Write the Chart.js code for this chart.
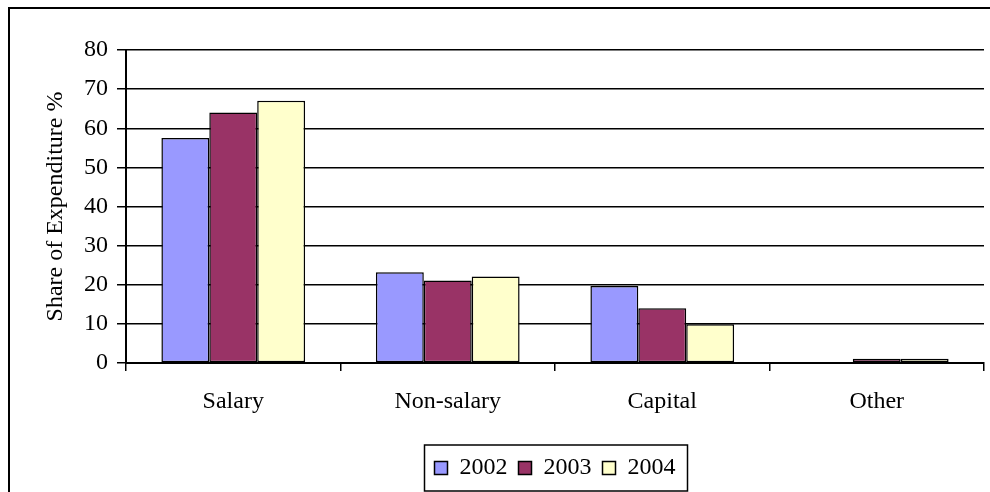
<!DOCTYPE html>
<html>
<head>
<meta charset="UTF-8">
<script src="https://cdn.jsdelivr.net/npm/chart.js@4"></script>
<style>
    body { margin: 0; background: #fff; }
    #wrap { width: 990px; height: 492px; }
</style>
</head>
<body>
<div id="wrap"><canvas id="chart" width="990" height="492"></canvas></div>
<script>
// data
const categories = ['Salary', 'Non-salary', 'Capital', 'Other'];
const years = ['2002', '2003', '2004'];
const share2002 = [57.5, 23.2, 19.7, 0];
const share2003 = [64, 21.1, 14, 1.1];
const share2004 = [67, 22.1, 9.9, 1.1];
const yTicks = [0, 10, 20, 30, 40, 50, 60, 70, 80];

const colors = ['#9999FF', '#993366', '#FFFFCC'];
const FONT = "'Liberation Serif', 'Times New Roman', serif";

// frame + legend box, drawn after everything else
const boxes = {
    id: 'boxes',
    afterDraw(chart) {
        const ctx = chart.ctx;
        ctx.save();
        ctx.strokeStyle = '#000';
        ctx.lineWidth = 2;
        ctx.strokeRect(9, 8, 1000, 500);
        const hb = chart.legend.legendHitBoxes;
        if (hb && hb.length) {
            const l = Math.min(...hb.map(b => b.left)) - 10;
            const r = Math.max(...hb.map(b => b.left + b.width)) + 12;
            const t = Math.min(...hb.map(b => b.top)) - 11;
            const btm = Math.max(...hb.map(b => b.top + b.height)) + 11;
            ctx.lineWidth = 1.5;
            ctx.strokeRect(l, t, r - l, btm - t);
        }
        ctx.restore();
    }
};

new Chart(document.getElementById('chart'), {
    type: 'bar',
    data: {
        labels: categories,
        datasets: [share2002, share2003, share2004].map((d, i) => ({
            label: years[i],
            data: d,
            backgroundColor: colors[i],
            borderColor: '#000',
            borderWidth: 1.5,
            borderSkipped: false,
            barPercentage: 1,
            categoryPercentage: 0.67
        }))
    },
    options: {
        responsive: false,
        devicePixelRatio: 1,
        animation: false,
        layout: { padding: { top: 50, right: 6, bottom: 2, left: 0 } },
        plugins: {
            tooltip: { enabled: false },
            legend: {
                position: 'bottom',
                fullSize: false,
                labels: {
                    color: '#000',
                    font: { family: FONT, size: 24 },
                    boxWidth: 13,
                    boxHeight: 13,
                    padding: 11
                }
            }
        },
        scales: {
            x: {
                offset: true,
                grid: {
                    offset: true,
                    drawOnChartArea: false,
                    color: '#000',
                    lineWidth: 1.5,
                    tickLength: 8
                },
                border: { color: '#000', width: 2 },
                ticks: {
                    color: '#000',
                    font: { family: FONT, size: 24 },
                    padding: 16
                },
                afterFit(scale) { scale.height = 82; }
            },
            y: {
                min: 0,
                max: 80,
                afterBuildTicks(scale) { scale.ticks = yTicks.map(v => ({ value: v })); },
                grid: {
                    color: '#000',
                    lineWidth: 1.5,
                    tickLength: 9
                },
                border: { color: '#000', width: 2 },
                ticks: {
                    color: '#000',
                    font: { family: FONT, size: 24 },
                    padding: 9
                },
                title: {
                    display: true,
                    text: 'Share of Expenditure %',
                    color: '#000',
                    font: { family: FONT, size: 24 },
                    padding: { top: 41, bottom: 0 }
                },
                afterFit(scale) { scale.width = 126; }
            }
        }
    },
    plugins: [boxes]
});
</script>
</body>
</html>
